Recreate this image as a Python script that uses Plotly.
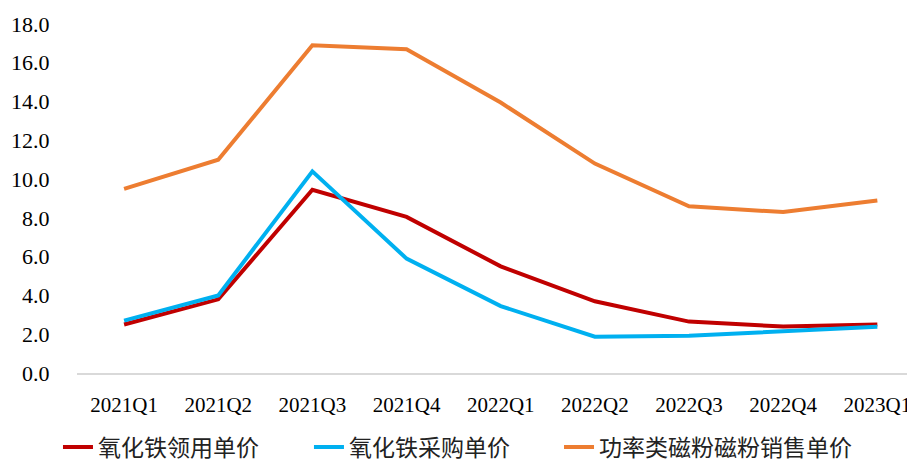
import plotly.graph_objects as go

categories = ["2021Q1", "2021Q2", "2021Q3", "2021Q4", "2022Q1", "2022Q2", "2022Q3", "2022Q4", "2023Q1"]
iron_oxide_use_price = [2.5, 3.8, 9.45, 8.05, 5.5, 3.7, 2.65, 2.4, 2.5]
iron_oxide_purchase_price = [2.7, 4.0, 10.4, 5.9, 3.45, 1.87, 1.92, 2.13, 2.38]
power_powder_sale_price = [9.5, 11.0, 16.9, 16.7, 13.95, 10.8, 8.6, 8.3, 8.9]
y_ticks = [0, 2, 4, 6, 8, 10, 12, 14, 16, 18]

series = [
    ("氧化铁领用单价", iron_oxide_use_price, "#C00000", "legend", -0.0227),
    ("氧化铁采购单价", iron_oxide_purchase_price, "#00B0F0", "legend2", 0.2768),
    ("功率类磁粉磁粉销售单价", power_powder_sale_price, "#ED7D31", "legend3", 0.5752),
]

fig = go.Figure()
legends = {}
for name, vals, color, leg, lx in series:
    fig.add_trace(go.Scatter(x=categories, y=vals, mode="lines", name=name,
                             line=dict(color=color, width=4), legend=leg))
    legends[leg] = dict(orientation="h", x=lx, xanchor="left", y=-0.212, yanchor="middle",
                        font=dict(size=23, color="#222222"), bgcolor="rgba(0,0,0,0)")

fig.update_layout(
    width=907, height=453,
    margin=dict(l=69, r=0, t=16, b=88, autoexpand=False),
    paper_bgcolor="white", plot_bgcolor="white",
    font=dict(family="Liberation Serif, Noto Sans CJK SC", size=22, color="#000000"),
    showlegend=True,
    xaxis=dict(type="category", range=[-0.5, 8.4], showgrid=False, showline=True,
               linecolor="#D9D9D9", linewidth=1.5, ticks="outside", ticklen=12,
               tickcolor="rgba(0,0,0,0)", zeroline=False, automargin=False,
               tickfont=dict(size=21)),
    yaxis=dict(range=[0, 18], tickvals=y_ticks, tickformat=".1f", showgrid=False,
               showline=False, zeroline=False, ticks="outside", ticklen=22,
               tickcolor="rgba(0,0,0,0)", automargin=False),
    **legends,
)

fig.write_html("out.html")
